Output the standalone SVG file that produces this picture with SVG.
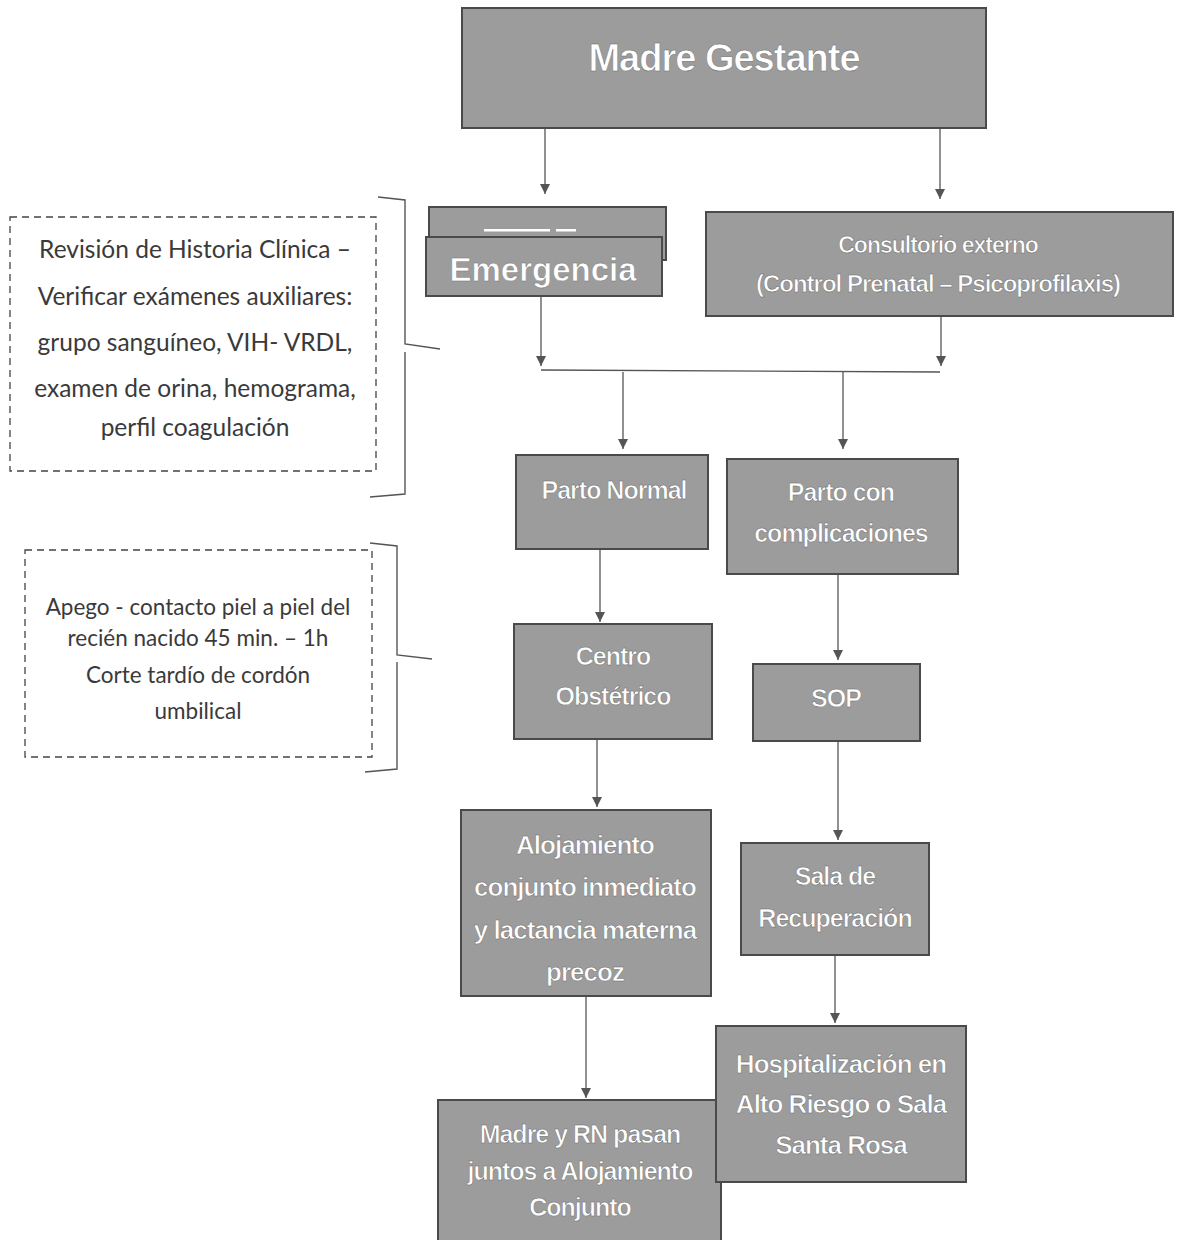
<svg xmlns="http://www.w3.org/2000/svg" width="1180" height="1240" viewBox="0 0 1180 1240">
<style>
.box{fill:#9c9c9c;stroke:#4a4a4a;stroke-width:2}
.t{font-family:"Liberation Sans",Arial,sans-serif;font-weight:bold;fill:#fff;text-anchor:middle;stroke:#6a6a6a;stroke-width:0.5;letter-spacing:-1px;font-size:25px}
.note{fill:none;stroke:#444;stroke-width:1.3;stroke-dasharray:7 5}
.nt{font-family:Lato,"Open Sans",sans-serif;fill:#3a3a3a;text-anchor:middle;font-size:24.5px}
.nt2{font-family:Lato,"Open Sans",sans-serif;fill:#3a3a3a;text-anchor:middle;font-size:22.5px}
.c{fill:none;stroke:#555;stroke-width:1.3}
.br{fill:none;stroke:#555;stroke-width:1.4}
</style>
<defs>
<marker id="ah" viewBox="0 0 10 10" refX="10" refY="5" markerWidth="10" markerHeight="10" markerUnits="userSpaceOnUse" orient="auto">
<path d="M0,0 L10,5 L0,10 Z" fill="#555"/>
</marker>
</defs>
<rect width="1180" height="1240" fill="#fff"/>
<g id="connectors">
<line class="c" x1="545" y1="128" x2="545" y2="194" marker-end="url(#ah)"/>
<line class="c" x1="940" y1="128" x2="940" y2="199" marker-end="url(#ah)"/>
<line class="c" x1="541" y1="296" x2="541" y2="366" marker-end="url(#ah)"/>
<line class="c" x1="941" y1="316" x2="941" y2="366" marker-end="url(#ah)"/>
<line class="c" x1="541" y1="370" x2="940" y2="372"/>
<line class="c" x1="623" y1="372" x2="623" y2="449" marker-end="url(#ah)"/>
<line class="c" x1="843" y1="372" x2="843" y2="449" marker-end="url(#ah)"/>
<line class="c" x1="600" y1="549" x2="600" y2="622" marker-end="url(#ah)"/>
<line class="c" x1="838" y1="574" x2="838" y2="660" marker-end="url(#ah)"/>
<line class="c" x1="597" y1="739" x2="597" y2="807" marker-end="url(#ah)"/>
<line class="c" x1="838" y1="741" x2="838" y2="840" marker-end="url(#ah)"/>
<line class="c" x1="586" y1="996" x2="586" y2="1098" marker-end="url(#ah)"/>
<line class="c" x1="835" y1="955" x2="835" y2="1023" marker-end="url(#ah)"/>
</g>
<g id="madre-gestante">
<rect class="box" x="462" y="8" width="524" height="120"/>
<text class="t" x="724" y="71" style="font-size:38px">Madre Gestante</text>
</g>
<g id="emergencia">
<rect class="box" x="429" y="207" width="237" height="53"/>
<rect x="484" y="229" width="66" height="2.5" fill="#fff"/>
<rect x="556" y="229" width="20" height="2.5" fill="#fff"/>
<rect class="box" x="426" y="237" width="236" height="59"/>
<text x="543" y="281" font-family="Liberation Sans,Arial,sans-serif" font-weight="bold" font-size="33" fill="#fff" text-anchor="middle" stroke="#777" stroke-width="0.5">Emergencia</text>
</g>
<g id="consultorio">
<rect class="box" x="706" y="212" width="467" height="104"/>
<text class="t" x="938" y="253" style="font-size:23px">Consultorio externo</text>
<text class="t" x="938" y="292" style="font-size:24px">(Control Prenatal – Psicoprofilaxis)</text>
</g>
<g id="parto-normal">
<rect class="box" x="516" y="455" width="192" height="94"/>
<text class="t" x="614" y="499">Parto Normal</text>
</g>
<g id="parto-complicaciones">
<rect class="box" x="727" y="459" width="231" height="115"/>
<text class="t" x="841" y="501">Parto con</text>
<text class="t" x="841" y="542">complicaciones</text>
</g>
<g id="centro-obstetrico">
<rect class="box" x="514" y="624" width="198" height="115"/>
<text class="t" x="613" y="665">Centro</text>
<text class="t" x="613" y="705">Obstétrico</text>
</g>
<g id="sop">
<rect class="box" x="753" y="664" width="167" height="77"/>
<text class="t" x="836" y="707">SOP</text>
</g>
<g id="alojamiento">
<rect class="box" x="461" y="810" width="250" height="186"/>
<text class="t" x="585" y="854" style="font-size:26px">Alojamiento</text>
<text class="t" x="585" y="896" style="font-size:26px">conjunto inmediato</text>
<text class="t" x="585" y="939" style="font-size:26px">y lactancia materna</text>
<text class="t" x="585" y="981" style="font-size:26px">precoz</text>
</g>
<g id="sala-recuperacion">
<rect class="box" x="741" y="843" width="188" height="112"/>
<text class="t" x="835" y="885">Sala de</text>
<text class="t" x="835" y="927">Recuperación</text>
</g>
<g id="madre-rn">
<rect class="box" x="438" y="1100" width="283" height="145"/>
<text class="t" x="580" y="1143">Madre y RN pasan</text>
<text class="t" x="580" y="1180">juntos a Alojamiento</text>
<text class="t" x="580" y="1216">Conjunto</text>
</g>
<g id="hospitalizacion">
<rect class="box" x="716" y="1026" width="250" height="156"/>
<text class="t" x="841" y="1073" style="font-size:26px">Hospitalización en</text>
<text class="t" x="841" y="1113" style="font-size:26px">Alto Riesgo o Sala</text>
<text class="t" x="841" y="1154" style="font-size:26px">Santa Rosa</text>
</g>
<g id="nota-examenes">
<rect class="note" x="10" y="217" width="366" height="254"/>
<text class="nt" x="195" y="258">Revisión de Historia Clínica –</text>
<text class="nt" x="195" y="305">Verificar exámenes auxiliares:</text>
<text class="nt" x="195" y="351">grupo sanguíneo, VIH- VRDL,</text>
<text class="nt" x="195" y="397">examen de orina, hemograma,</text>
<text class="nt" x="195" y="436">perfil coagulación</text>
<path class="br" d="M378,197 L405,200 L405,344 L440,349 M405,352 L405,494 L370,497"/>
</g>
<g id="nota-apego">
<rect class="note" x="25" y="550" width="347" height="207"/>
<text class="nt2" x="198" y="615">Apego - contacto piel a piel del</text>
<text class="nt2" x="198" y="646">recién nacido 45 min. – 1h</text>
<text class="nt2" x="198" y="683">Corte tardío de cordón</text>
<text class="nt2" x="198" y="719">umbilical</text>
<path class="br" d="M370,543 L397,546 L397,655 L432,659 M397,662 L397,769 L365,772"/>
</g>
</svg>
